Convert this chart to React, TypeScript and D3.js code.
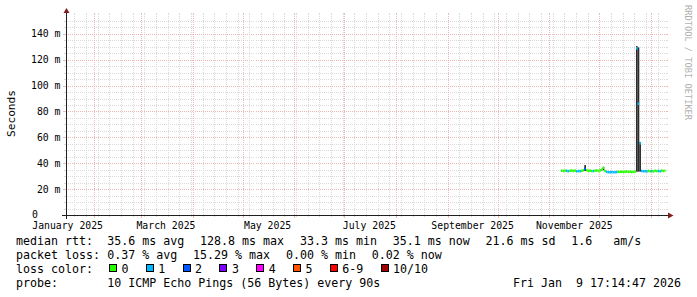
import React from "react";
import * as d3 from "d3";

// ---------- data ----------
const END_TIME = new Date(2026, 0, 9, 17, 14, 47);
const SPAN_DAYS = 360;
const Y_MAX_MS = 154.56;

const seriesStart = new Date(2025, 10, 8); // first day with data
const medianMs = [
  34.2, 34.0, 34.3, 34.1, 33.9, 34.2, 34.4, 34.0, 34.3, 33.8,
  34.0, 33.9, 34.2, 34.5, 35.5, 34.6, 34.1, 34.3, 33.9, 34.0,
  34.2, 34.4, 34.0, 34.5, 35.0, 36.5, 34.0, 33.3, 33.1, 33.0,
  33.2, 33.0, 33.1, 33.2, 33.4, 33.3, 33.5, 33.2, 33.4, 33.6,
  33.3, 33.5, 33.2, 33.4, 33.6, 128.8, 86.0, 55.4, 34.0, 33.8,
  33.9, 33.7, 34.1, 33.8, 34.0, 33.7, 34.2, 33.9, 34.1, 33.8,
  34.3, 34.0, 34.2,
];
const lossPings = [
  0, 0, 0, 1, 1, 0, 0, 0, 0, 1,
  1, 1, 0, 0, 2, 0, 0, 0, 0, 1,
  0, 0, 0, 0, 0, 0, 0, 1, 1, 1,
  1, 1, 1, 1, 0, 0, 0, 0, 0, 0,
  0, 0, 0, 0, 0, 1, 1, 1, 1, 1,
  1, 1, 0, 0, 1, 0, 0, 0, 1, 1,
  0, 0, 0,
];
const smokeLoMs = [
  34.2, 34.0, 34.3, 34.1, 33.9, 34.2, 34.4, 34.0, 34.3, 33.8,
  34.0, 33.9, 34.2, 34.5, 34.0, 34.6, 34.1, 34.3, 33.9, 34.0,
  34.2, 34.4, 34.0, 34.5, 35.0, 34.5, 34.0, 33.3, 33.1, 33.0,
  33.2, 33.0, 33.1, 33.2, 33.4, 33.3, 33.5, 33.2, 33.4, 33.6,
  33.3, 33.5, 33.2, 33.4, 33.6, 33.5, 33.5, 33.5, 34.0, 33.8,
  33.9, 33.7, 34.1, 33.8, 34.0, 33.7, 34.2, 33.9, 34.1, 33.8,
  34.3, 34.0, 34.2,
];
const smokeHiMs = [
  34.2, 34.0, 34.3, 34.1, 33.9, 34.2, 34.4, 34.0, 34.3, 33.8,
  34.0, 33.9, 34.2, 34.5, 38.6, 34.6, 34.1, 34.3, 33.9, 34.0,
  34.2, 34.4, 34.0, 34.5, 35.0, 37.0, 34.0, 33.3, 33.1, 33.0,
  33.2, 33.0, 33.1, 33.2, 33.4, 33.3, 33.5, 33.2, 33.4, 33.6,
  33.3, 33.5, 33.2, 33.4, 33.6, 130.5, 129.5, 56.5, 34.0, 33.8,
  33.9, 33.7, 34.1, 33.8, 34.0, 33.7, 34.2, 33.9, 34.1, 33.8,
  34.3, 34.0, 34.2,
];

const yMajorTicks = [0, 20, 40, 60, 80, 100, 120, 140];

const medianLabel = "median rtt:";
const medianStats = ["35.6 ms avg", "128.8 ms max", "33.3 ms min", "35.1 ms now", "21.6 ms sd", "1.6   am/s"];
const lossLabel = "packet loss:";
const lossStats = ["0.37 % avg", "15.29 % max", "0.00 % min", "0.02 % now"];
const colorLabel = "loss color:";
const lossBands = ["0", "1", "2", "3", "4", "5", "6-9", "10/10"];
const lossBandColors = ["#26ff00", "#00b8ff", "#0059ff", "#7e00ff", "#ff00ff", "#ff5500", "#ff0000", "#a00000"];
const probeLabel = "probe:";
const probeText = "10 ICMP Echo Pings (56 Bytes) every 90s";
const stampText = "Fri Jan  9 17:14:47 2026";
const unitTitle = "Seconds";
const watermark = "RRDTOOL / TOBI OETIKER";

// ---------- layout ----------
const W = 697, H = 297;
const X0 = 65.5, PW = 600, Y0 = 215, PH = 200;
const MONO = "'DejaVu Sans Mono', monospace";
const CW = 7.0, GAP = 15.8, VAL_X = 107.3;

const nb = (s: string) => s.replace(/ /g, "\u00a0");

function bandIndex(l: number) {
  if (l <= 5) return l;
  if (l < 10) return 6;
  return 7;
}

export default function App() {
  const start = new Date(END_TIME.getTime() - SPAN_DAYS * 864e5);
  const x = d3.scaleTime().domain([start, END_TIME]).range([X0, X0 + PW]);
  const y = d3.scaleLinear().domain([0, Y_MAX_MS]).range([Y0, Y0 - PH]);
  const px = (v: number) => Math.round(v) + 0.5;
  const xAxisPx = px(66);
  const yAxisPx = px(y(0));
  const topPx = Y0 - PH;

  const mondays = d3.timeMonday.range(start, END_TIME);
  const months = d3.timeMonth.range(start, END_TIME);
  const minorY = d3.range(5, Y_MAX_MS, 5).filter((v) => v % 20 !== 0);
  const majorY = yMajorTicks.filter((v) => v > 0);

  const labelMonths = d3.timeMonth
    .every(2)!
    .range(d3.timeMonth.floor(start), END_TIME)
    .map((t) => ({ t, lab: d3.timeDay.offset(t, 15) }))
    .filter((d) => d.lab >= start && d.lab <= END_TIME);
  const fmt = d3.timeFormat("%B %Y");

  const days = medianMs.map((m, i) => {
    const t0 = d3.timeDay.offset(seriesStart, i);
    const t1 = d3.timeDay.offset(seriesStart, i + 1);
    return {
      x0: x(t0),
      x1: Math.min(x(t1), X0 + PW),
      m,
      lo: smokeLoMs[i],
      hi: smokeHiMs[i],
      color: lossBandColors[bandIndex(lossPings[i])],
    };
  });

  const place = (items: string[], x0: number) => {
    let cur = x0;
    return items.map((t) => {
      const p = cur;
      cur += t.length * CW + GAP;
      return p;
    });
  };
  const row1X = place(medianStats, VAL_X);
  const row2X = place(lossStats, VAL_X);
  const boxes: { bx: number; lx: number }[] = [];
  {
    let b = 109;
    lossBands.forEach((lab) => {
      const lx = b + 12.5;
      boxes.push({ bx: b, lx });
      b = lx + lab.length * CW + 17.3;
    });
  }

  const minorCol = "#dadada";
  const majorCol = "#ecb8b8";

  return (
    <svg
      width={W}
      height={H}
      style={{ position: "absolute", left: 0, top: 0, background: "#ffffff" }}
      xmlns="http://www.w3.org/2000/svg"
    >
      <rect x={0} y={0} width={W} height={H} fill="#ffffff" />
      {/* minor grid */}
      <g stroke={minorCol} strokeWidth={1} shapeRendering="crispEdges">
        {mondays.map((t, i) => {
          const xx = px(x(t));
          return (
            <g key={"mv" + i}>
              <line x1={xx} x2={xx} y1={Y0} y2={topPx} strokeDasharray="1,1" />
              <line x1={xx} x2={xx} y1={topPx - 2} y2={topPx} />
              <line x1={xx} x2={xx} y1={Y0} y2={Y0 + 2} />
            </g>
          );
        })}
        {minorY.map((v, i) => {
          const yy = px(y(v));
          return (
            <g key={"mh" + i}>
              <line x1={X0} x2={X0 + PW} y1={yy} y2={yy} strokeDasharray="1,1" />
              <line x1={X0 - 2} x2={X0} y1={yy} y2={yy} />
              <line x1={X0 + PW} x2={X0 + PW + 2} y1={yy} y2={yy} />
            </g>
          );
        })}
      </g>
      {/* major grid */}
      <g stroke={majorCol} strokeWidth={1} shapeRendering="crispEdges">
        {months.map((t, i) => {
          const xx = px(x(t));
          return (
            <g key={"Mv" + i}>
              <line x1={xx} x2={xx} y1={Y0} y2={topPx} strokeDasharray="1,1" />
              <line x1={xx} x2={xx} y1={topPx - 2} y2={topPx} />
              <line x1={xx} x2={xx} y1={Y0} y2={Y0 + 3} />
            </g>
          );
        })}
        {majorY.map((v, i) => {
          const yy = px(y(v));
          return (
            <g key={"Mh" + i}>
              <line x1={X0} x2={X0 + PW} y1={yy} y2={yy} strokeDasharray="1,1" />
              <line x1={X0 - 3} x2={X0} y1={yy} y2={yy} />
              <line x1={X0 + PW} x2={X0 + PW + 2} y1={yy} y2={yy} />
            </g>
          );
        })}
      </g>
      {/* smoke */}
      <g fill="#2b2b2b">
        {days
          .filter((d) => d.hi - d.lo > 0.01)
          .map((d, i) => (
            <rect key={"s" + i} x={d.x0} width={d.x1 - d.x0} y={y(d.hi)} height={y(d.lo) - y(d.hi)} />
          ))}
      </g>
      {/* median coloured by loss */}
      <g>
        {days.map((d, i) => (
          <rect key={"m" + i} x={d.x0} width={d.x1 - d.x0} y={y(d.m) - 1.25} height={2.5} fill={d.color} />
        ))}
      </g>
      {/* axes */}
      <g stroke="#1f1f1f" strokeWidth={1} shapeRendering="crispEdges">
        <line x1={62} x2={670} y1={yAxisPx} y2={yAxisPx} />
        <line x1={xAxisPx} x2={xAxisPx} y1={219} y2={11} />
      </g>
      <g fill="#801f1f">
        <polygon points={`668,${yAxisPx - 3} 668,${yAxisPx + 3} 673.5,${yAxisPx}`} />
        <polygon points={`${xAxisPx - 3},13 ${xAxisPx + 3},13 ${xAxisPx},8`} />
      </g>
      {/* axis labels */}
      <g fontFamily={MONO} fontSize={9.8} fill="#000">
        {yMajorTicks.map((v) =>
          v === 0 ? (
            <text key={"yl" + v} x={32} y={y(v) + 2.8}>
              0
            </text>
          ) : (
            <text key={"yl" + v} x={60.5} y={y(v) + 3.6} textAnchor="end">
              {nb(`${v} m`)}
            </text>
          )
        )}
        {labelMonths.map((d, i) => (
          <text key={"xl" + i} x={x(d.lab)} y={228.5} textAnchor="middle">
            {nb(fmt(d.t))}
          </text>
        ))}
      </g>
      <text
        transform="translate(15,113.5) rotate(-90)"
        textAnchor="middle"
        fontFamily={MONO}
        fontSize={11.2}
        fill="#000"
      >
        {unitTitle}
      </text>
      <text
        transform="translate(685.3,5) rotate(90)"
        fontFamily={MONO}
        fontSize={8.7}
        fill="#b0b0b0"
      >
        {nb(watermark)}
      </text>
      {/* legend */}
      <g fontFamily={MONO} fontSize={11.63} fill="#000">
        <text x={16} y={245}>{nb(medianLabel)}</text>
        {medianStats.map((s, i) => (
          <text key={"r1" + i} x={row1X[i]} y={245}>{nb(s)}</text>
        ))}
        <text x={16} y={259}>{nb(lossLabel)}</text>
        {lossStats.map((s, i) => (
          <text key={"r2" + i} x={row2X[i]} y={259}>{nb(s)}</text>
        ))}
        <text x={16} y={273}>{nb(colorLabel)}</text>
        {boxes.map((b, i) => (
          <g key={"b" + i}>
            <rect
              x={Math.round(b.bx) + 0.5}
              y={264.5}
              width={7}
              height={7}
              fill={lossBandColors[i]}
              stroke="#000"
              strokeWidth={1}
              shapeRendering="crispEdges"
            />
            <text x={b.lx} y={273}>{nb(lossBands[i])}</text>
          </g>
        ))}
        <text x={16} y={287}>{nb(probeLabel)}</text>
        <text x={VAL_X} y={287}>{nb(probeText)}</text>
        <text x={681} y={287} textAnchor="end">{nb(stampText)}</text>
      </g>
    </svg>
  );
}
